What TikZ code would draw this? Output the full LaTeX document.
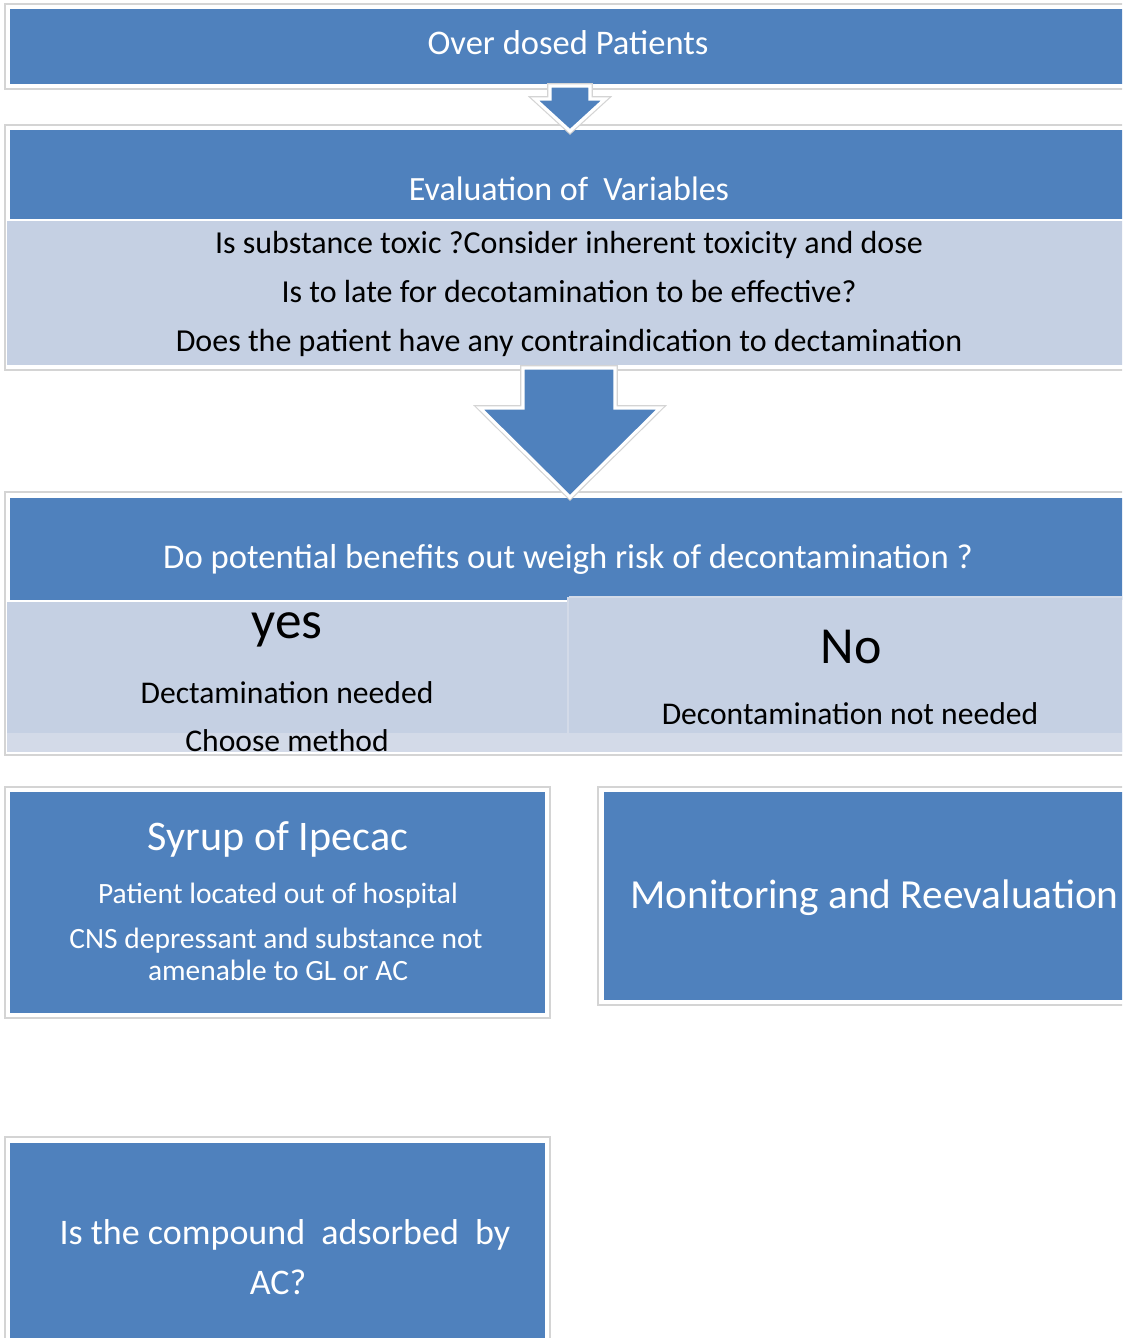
\documentclass[tikz,border=0pt]{standalone}
\usepackage{fontspec}
\setmainfont{Carlito}
\definecolor{blueC}{HTML}{4F81BD}
\definecolor{lightC}{HTML}{C5D0E3}
\definecolor{lighterC}{HTML}{D3DAE8}
\definecolor{frameC}{HTML}{D4D4D4}
\tikzset{
  frameline/.style={draw=frameC, line width=0.9pt, fill=white},
  bluebox/.style={fill=blueC},
  lightbox/.style={fill=lightC},
  wtext/.style={text=white, inner sep=0pt, anchor=base},
  btext/.style={text=black, inner sep=0pt, anchor=base},
  arrowouter/.style={draw=frameC, line width=4.2pt, line join=miter},
  arrowinner/.style={draw=white, line width=2.4pt, fill=blueC, line join=miter},
}
\newcommand{\fs}[1]{\fontsize{#1}{#1}\selectfont}
\begin{document}
\begin{tikzpicture}[x=0.75pt,y=-0.75pt]
\useasboundingbox (0,0) rectangle (1122,1338);
\clip (0,0) rectangle (1122,1338);
% Box 1
\path[frameline] (5,4) rectangle (1130,89);
\path[bluebox] (10,9) rectangle (1130,84);
\node[wtext, font=\fs{25.9}] (t1) at (568,55) {Over dosed Patients};
% Box 2
\path[frameline] (5,125) rectangle (1130,370);
\path[bluebox] (10,130) rectangle (1130,219);
\path[lightbox] (7,221) rectangle (1130,365);
\node[wtext, font=\fs{25.5}] (t2) at (569,200) {Evaluation of~ Variables};
\node[btext, font=\fs{24}] (t2a) at (569,253) {Is substance toxic ?Consider inherent toxicity and dose};
\node[btext, font=\fs{24}] (t2b) at (569,302) {Is to late for decotamination to be effective?};
\node[btext, font=\fs{24}] (t2c) at (569,351) {Does the patient have any contraindication to dectamination};
% small arrow
\path[arrowouter] (550,86) -- (590,86) -- (590,99) -- (605,99) -- (570,131) -- (535,99) -- (550,99) -- cycle;
\path[arrowinner] (550,86) -- (590,86) -- (590,99) -- (605,99) -- (570,131) -- (535,99) -- (550,99) -- cycle;
% Box 3
\path[frameline] (5,492) rectangle (1130,755);
\path[bluebox] (10,498) rectangle (1130,600);
\path[lightbox] (7,602) rectangle (567,752);
\path[lightbox] (569,597) rectangle (1130,752);
\path[fill=lighterC] (7,733) rectangle (1130,752);
\draw[lighterC, line width=1.2pt] (568,597) -- (568,752);
\draw[lighterC, line width=1pt] (569,597) -- (1130,597);
\node[wtext, font=\fs{26}] (t3) at (568,568) {Do potential benefits out weigh risk of decontamination ?};
\node[btext, font=\fs{40}] (yes) at (287,638) {yes};
\node[btext, font=\fs{39}] (no) at (851,663) {No};
\node[btext, font=\fs{23.7}] (t3a) at (287,703) {Dectamination needed};
\node[btext, font=\fs{23.7}] (t3b) at (287,751) {Choose method};
\node[btext, font=\fs{23.7}] (t3c) at (850,724) {Decontamination not needed};
% big arrow
\path[arrowouter] (523,368) -- (615,368) -- (615,408) -- (660,408) -- (570,497) -- (480,408) -- (523,408) -- cycle;
\path[arrowinner] (523,368) -- (615,368) -- (615,408) -- (660,408) -- (570,497) -- (480,408) -- (523,408) -- cycle;
% Box 4
\path[frameline] (5,787) rectangle (550,1018);
\path[bluebox] (10,792) rectangle (545,1013);
\node[wtext, font=\fs{31.6}] (s1) at (278,850) {Syrup of Ipecac};
\node[wtext, font=\fs{22.1}] (s2) at (278,903) {Patient located out of hospital};
\node[wtext, font=\fs{22.1}] (s3) at (276,948) {CNS depressant and substance not};
\node[wtext, font=\fs{22.1}] (s4) at (278,980) {amenable to GL or AC};
% Box 5
\path[frameline] (598,787) rectangle (1130,1005);
\path[bluebox] (604,792) rectangle (1130,1000);
\node[wtext, font=\fs{31}, anchor=base east] (m1) at (1119,908) {Monitoring and Reevaluation};
% Box 6
\path[frameline] (5,1137) rectangle (550,1345);
\path[bluebox] (10,1143) rectangle (545,1345);
\node[wtext, font=\fs{27}] (q1) at (285,1244) {Is the compound~ adsorbed~ by};
\node[wtext, font=\fs{27}] (q2) at (278,1294) {AC?};
\end{tikzpicture}
\end{document}
